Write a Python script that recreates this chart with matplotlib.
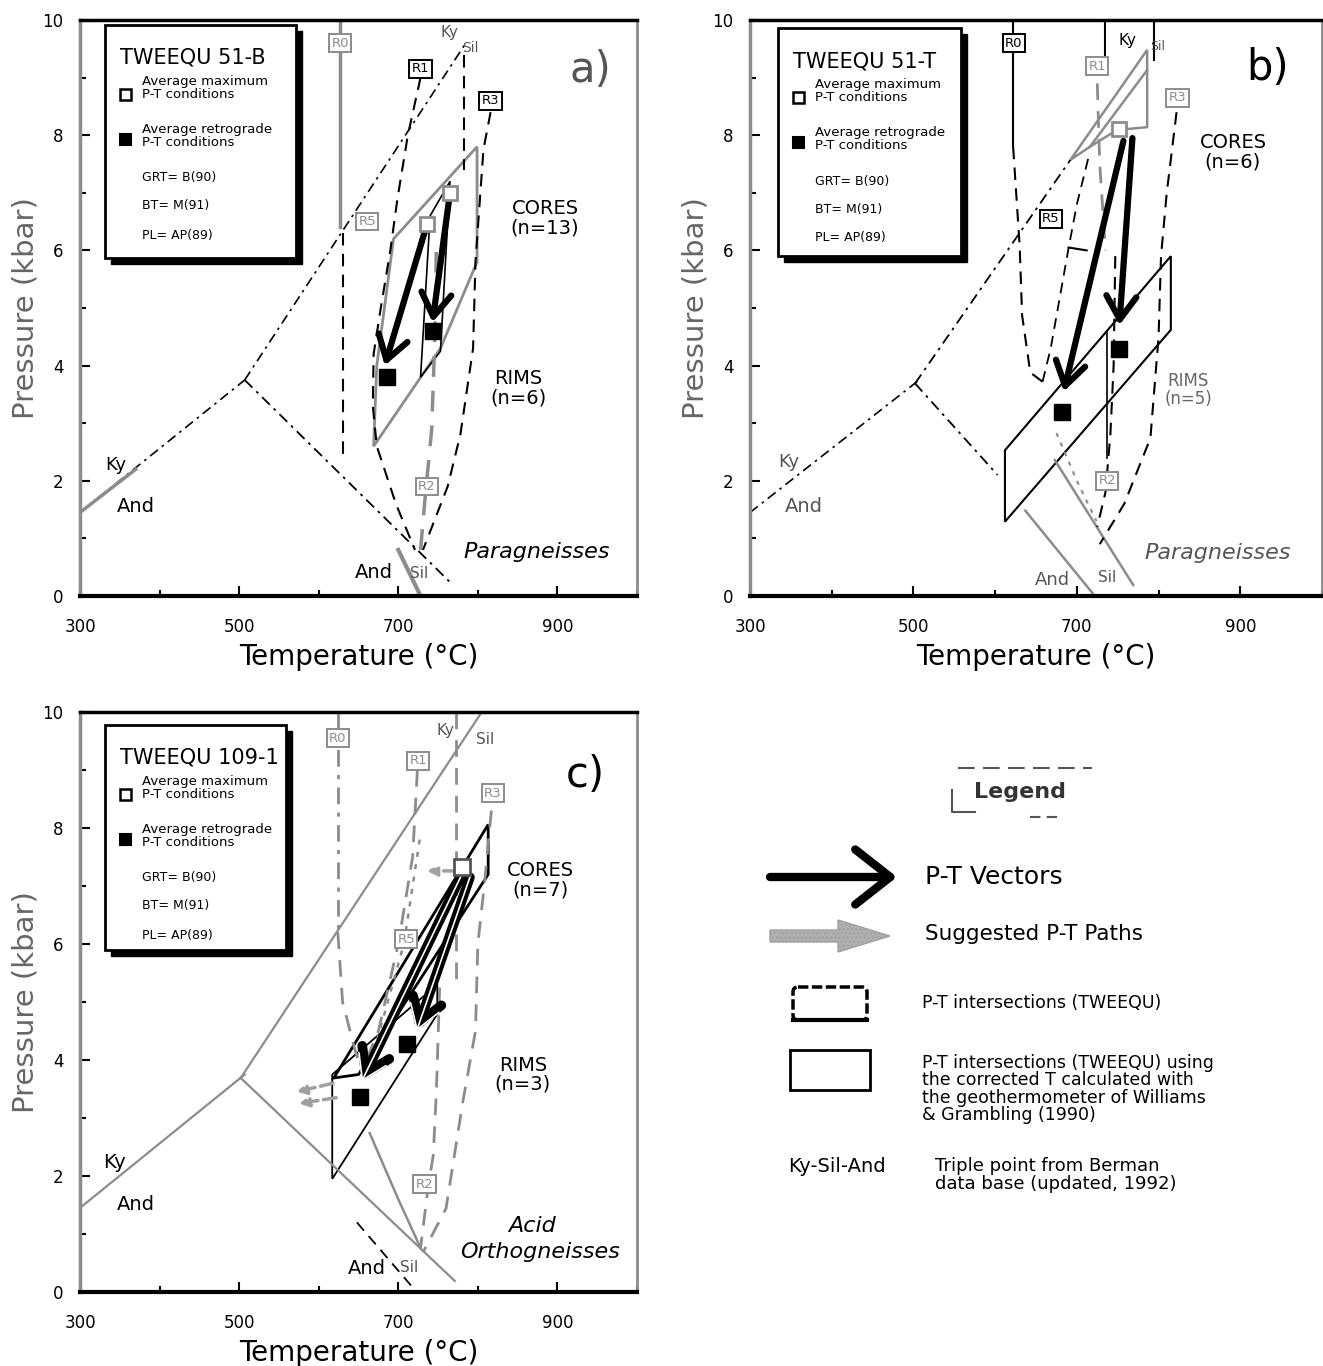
import matplotlib
matplotlib.use("Agg")
import matplotlib.pyplot as plt
from matplotlib.patches import Rectangle, Polygon, FancyArrow, FancyBboxPatch

plt.rcParams['font.family'] = ['DejaVu Sans']

GRAY = '#8c8c8c'
DASH = (0, (6, 4))
DASHDOT = (0, (6, 3, 1.5, 3))
DOT = (0, (2, 3))

# ---------------- data (T in degC, P in kbar) ----------------
# Berman (1992) triple point lines
kyand_T = [300, 507]
kyand_P = [1.45, 3.75]

# panel a : TWEEQU 51-B
a_kysil_T = [507, 784]
a_kysil_P = [3.75, 9.58]
a_andsil_T = [507, 768]
a_andsil_P = [3.75, 0.2]
a_andsil2_T = [700, 728]
a_andsil2_P = [0.8, 0.0]
a_r0_top_T = [627, 627]
a_r0_top_P = [10, 6.4]
a_r0_T = [631, 631]
a_r0_P = [6.3, 2.4]
a_r1_T = [728, 712, 699, 690, 678, 669, 668, 673, 697, 721]
a_r1_P = [9.0, 8.0, 6.9, 6.0, 5.0, 4.2, 3.3, 2.6, 1.6, 0.8]
a_r2_T = [728, 733, 742, 746, 748]
a_r2_P = [0.8, 1.6, 2.9, 4.5, 6.2]
a_r3_T = [816, 807, 797, 794, 778, 762, 731]
a_r3_P = [8.4, 7.75, 5.8, 4.3, 2.8, 1.9, 0.8]
a_r4_T = [782, 782]
a_r4_P = [9.4, 7.4]
a_core_T = [669, 673, 694, 799, 799, 753]
a_core_P = [2.6, 4.0, 6.2, 7.8, 5.8, 4.3]
a_rim_T = [728, 753, 765, 740]
a_rim_P = [3.8, 4.25, 7.2, 6.6]
a_vec_T0 = [736, 765]
a_vec_P0 = [6.45, 7.0]
a_vec_T1 = [683, 743]
a_vec_P1 = [4.0, 4.75]
a_ret_T = [686, 743]
a_ret_P = [3.8, 4.6]
a_lab = {'R0': (627, 9.6), 'R1': (728, 9.15), 'R3': (816, 8.6), 'R5': (661, 6.5), 'R2': (736, 1.9)}

# panel b : TWEEQU 51-T
b_kysil_T = [502, 692]
b_kysil_P = [3.69, 7.57]
b_andsil_T = [502, 603]
b_andsil_P = [3.69, 2.1]
b_andsil2_T = [637, 722]
b_andsil2_P = [1.48, 0.0]
b_andsil3_T = [673, 769]
b_andsil3_P = [2.36, 0.19]
b_r0_top_T = [622, 622]
b_r0_top_P = [10, 7.8]
b_r0_T = [622, 630, 633, 643, 658]
b_r0_P = [7.8, 6.08, 4.87, 3.88, 3.72]
b_r5_T = [658, 668, 690, 700, 714]
b_r5_P = [3.72, 4.3, 6.05, 6.8, 7.6]
b_r5h_T = [690, 712]
b_r5h_P = [6.05, 6.0]
b_r1_T = [725, 728, 735]
b_r1_P = [8.9, 7.5, 6.0]
b_r2_T = [747, 745, 741, 735, 725]
b_r2_P = [5.9, 4.0, 2.8, 1.8, 1.2]
b_r3_T = [822, 810, 803, 800, 790, 758, 728]
b_r3_P = [8.4, 7.0, 5.9, 4.5, 2.74, 1.6, 0.9]
b_u_T = [675, 700, 724]
b_u_P = [2.83, 2.0, 1.3]
b_rim_T = [612, 612, 815, 815]
b_rim_P = [1.29, 2.53, 5.9, 4.62]
b_rim_in_T = [737, 737]
b_rim_in_P = [2.4, 4.6]
b_core_T = [692, 786, 786, 749, 716]
b_core_P = [7.57, 9.48, 8.14, 8.09, 7.8]
b_core_in_T = [716, 786]
b_core_in_P = [7.8, 9.13]
b_vec_T0 = [757, 768]
b_vec_P0 = [7.9, 7.95]
b_vec_T1 = [684, 752]
b_vec_P1 = [3.55, 4.7]
b_ret_T = [682, 751]
b_ret_P = [3.2, 4.28]
b_max_T = [752]
b_max_P = [8.1]
b_lab = {'R0': (623, 9.6), 'R1': (725, 9.2), 'R3': (823, 8.65), 'R5': (668, 6.55), 'R2': (737, 2.0)}

# panel c : TWEEQU 109-1
c_kysil_T = [502, 803]
c_kysil_P = [3.69, 9.96]
c_andsil_T = [502, 771]
c_andsil_P = [3.69, 0.19]
c_andsil2_T = [648, 723]
c_andsil2_P = [1.2, 0.0]
c_r0_top_T = [624, 624]
c_r0_top_P = [10, 6.2]
c_r0_T = [624, 630, 645, 654]
c_r0_P = [6.2, 5.0, 4.2, 3.8]
c_r1_T = [724, 718, 700, 675, 654]
c_r1_P = [9.0, 7.5, 6.0, 4.5, 3.8]
c_r5_T = [654, 664, 707, 728]
c_r5_P = [3.8, 3.88, 6.0, 7.9]
c_r3_T = [817, 808, 800, 797, 781, 760, 731]
c_r3_P = [8.3, 7.0, 6.0, 4.5, 3.27, 1.44, 0.68]
c_r4_T = [773, 773]
c_r4_P = [10, 5.25]
c_r2_T = [752, 748, 744, 738, 728]
c_r2_P = [5.25, 3.5, 2.36, 1.86, 0.76]
c_u_T = [664, 700, 728]
c_u_P = [2.74, 1.6, 0.76]
c_rim_T = [617, 617, 749, 749]
c_rim_P = [1.95, 3.75, 5.3, 4.79]
c_core_T = [619, 813, 813, 650]
c_core_P = [3.69, 8.06, 7.2, 3.75]
c_vec_T0 = [782, 790]
c_vec_P0 = [7.26, 7.15]
c_vec_T1 = [654, 723]
c_vec_P1 = [3.63, 4.5]
c_ret_T = [652, 711]
c_ret_P = [3.37, 4.27]
c_max_T = [780]
c_max_P = [7.32]
c_path_T0 = [618, 622, 773]
c_path_P0 = [3.6, 3.35, 7.26]
c_path_T1 = [572, 575, 736]
c_path_P1 = [3.45, 3.25, 7.26]
c_lab = {'R0': (624, 9.55), 'R1': (725, 9.16), 'R3': (819, 8.6), 'R5': (710, 6.08), 'R2': (733, 1.86)}

fig = plt.figure(figsize=(13.23, 13.66), dpi=100)
W, H = 1323.0, 1366.0


def frame(rect):
    ax = fig.add_axes(rect)
    ax.set_xlim(300, 1000)
    ax.set_ylim(0, 10)
    ax.set_xticks([300, 500, 700, 900])
    ax.set_xticks([400, 600, 800, 1000], minor=True)
    ax.set_yticks([0, 2, 4, 6, 8, 10])
    ax.set_yticks([1, 3, 5, 7, 9], minor=True)
    ax.tick_params(which='both', direction='in', labelsize=12, width=1.5)
    ax.tick_params(which='major', length=7)
    ax.tick_params(which='minor', length=4)
    ax.tick_params(axis='x', pad=16)
    ax.tick_params(axis='y', pad=12)
    ax.spines['bottom'].set_linewidth(3)
    ax.spines['top'].set_linewidth(2.5)
    ax.spines['left'].set_color(GRAY)
    ax.spines['left'].set_linewidth(2.5)
    ax.spines['right'].set_color(GRAY)
    ax.spines['right'].set_linewidth(2)
    ax.set_xlabel('Temperature (\u00b0C)', fontsize=20, labelpad=5)
    ax.set_ylabel('Pressure (kbar)', fontsize=21, color='#666666', labelpad=2)
    return ax


def rlabels(ax, labs, grays=()):
    for k, (t, p) in labs.items():
        col = GRAY if k in grays else 'k'
        ax.text(t, p, k, fontsize=9.5, ha='center', va='center', color=col, zorder=6,
                bbox=dict(boxstyle='square,pad=0.18', fc='white', ec=col, lw=1.4))


def vectors(ax, t0, p0, t1, p1, hollow=False):
    for a, b, c, d in zip(t0, p0, t1, p1):
        ax.annotate('', xy=(c, d), xytext=(a, b), zorder=7,
                    arrowprops=dict(arrowstyle='->,head_length=0.7,head_width=0.45',
                                    lw=7 if hollow else 4.5, color='k', shrinkA=0, shrinkB=0,
                                    mutation_scale=24))
        if hollow:
            ax.annotate('', xy=(c, d), xytext=(a, b), zorder=7,
                        arrowprops=dict(arrowstyle='->,head_length=0.7,head_width=0.45',
                                        lw=1.2, color='white', shrinkA=0, shrinkB=0,
                                        mutation_scale=24))


# ---------------- panel a ----------------
ax = frame([80 / W, 1 - 596 / H, 557 / W, 576 / H])
ax.plot(kyand_T, kyand_P, color='k', lw=1.2, ls=DASHDOT)
ax.plot([300, 370], [1.45, 2.2], color=GRAY, lw=2.5)
ax.plot(a_kysil_T, a_kysil_P, color='k', lw=1.2, ls=DASHDOT)
ax.plot(a_andsil_T, a_andsil_P, color='k', lw=1.3, ls=DASHDOT)
ax.plot(a_andsil2_T, a_andsil2_P, color=GRAY, lw=3)
ax.plot(a_r0_top_T, a_r0_top_P, color=GRAY, lw=2.5)
ax.plot(a_r0_T, a_r0_P, color='k', lw=1.5, ls=DASH)
ax.plot(a_r1_T, a_r1_P, color='k', lw=1.5, ls=DASH)
ax.plot(a_r2_T, a_r2_P, color=GRAY, lw=2.5, ls=DASH)
ax.plot(a_r3_T, a_r3_P, color='k', lw=1.5, ls=DASH)
ax.plot(a_r4_T, a_r4_P, color='k', lw=1.5, ls=DASH)
ax.add_patch(Polygon(list(zip(a_core_T, a_core_P)), closed=True, fill=False, ec=GRAY, lw=2))
ax.add_patch(Polygon(list(zip(a_rim_T, a_rim_P)), closed=True, fill=False, ec='k', lw=1.2))
vectors(ax, a_vec_T0, a_vec_P0, a_vec_T1, a_vec_P1)
ax.plot(a_vec_T0, a_vec_P0, 's', ms=10, mfc='white', mec=GRAY, mew=2, zorder=8)
ax.plot(a_ret_T, a_ret_P, 's', ms=11, mfc='k', mec='k', zorder=8)
rlabels(ax, a_lab, grays=('R0', 'R5', 'R2'))

# ---------------- panel b ----------------
ax = frame([750 / W, 1 - 596 / H, 572 / W, 576 / H])
ax.plot(kyand_T, kyand_P, color='k', lw=1.2, ls=DASHDOT)
ax.plot(b_kysil_T, b_kysil_P, color='k', lw=1.3, ls=DASHDOT)
ax.plot(b_andsil_T, b_andsil_P, color='k', lw=1.3, ls=DASHDOT)
ax.plot(b_andsil2_T, b_andsil2_P, color=GRAY, lw=1.8)
ax.plot(b_andsil3_T, b_andsil3_P, color=GRAY, lw=1.8)
ax.plot(b_r0_top_T, b_r0_top_P, color='k', lw=1.5)
ax.plot(b_r0_T, b_r0_P, color='k', lw=1.5, ls=DASH)
ax.plot(b_r5_T, b_r5_P, color='k', lw=1.3, ls=DASH)
ax.plot(b_r5h_T, b_r5h_P, color='k', lw=1.5)
ax.plot(b_r1_T, b_r1_P, color=GRAY, lw=2, ls=DASH)
ax.plot(b_r2_T, b_r2_P, color='k', lw=1.5, ls=DASH)
ax.plot(b_r3_T, b_r3_P, color='k', lw=1.5, ls=DASH)
ax.plot(b_u_T, b_u_P, color=GRAY, lw=1.5, ls=DOT)
ax.plot([735, 735], [10, 9.4], color='k', lw=1.5)
ax.plot([795, 795], [10, 9.3], color='k', lw=1.5)
ax.add_patch(Polygon(list(zip(b_rim_T, b_rim_P)), closed=True, fill=False, ec='k', lw=1.5))
ax.plot(b_rim_in_T, b_rim_in_P, color='k', lw=1.2)
ax.add_patch(Polygon(list(zip(b_core_T, b_core_P)), closed=True, fill=False, ec=GRAY, lw=1.8))
ax.plot(b_core_in_T, b_core_in_P, color=GRAY, lw=1.8)
vectors(ax, b_vec_T0, b_vec_P0, b_vec_T1, b_vec_P1)
ax.plot(b_max_T, b_max_P, 's', ms=10, mfc='white', mec=GRAY, mew=2, zorder=8)
ax.plot(b_ret_T, b_ret_P, 's', ms=11, mfc='k', mec='k', zorder=8)
rlabels(ax, b_lab, grays=('R1', 'R3', 'R2'))

# ---------------- panel c ----------------
ax = frame([80 / W, 1 - 1292 / H, 557 / W, 580 / H])
ax.plot(kyand_T, kyand_P, color=GRAY, lw=1.6)
ax.plot(c_kysil_T, c_kysil_P, color=GRAY, lw=1.6)
ax.plot(c_andsil_T, c_andsil_P, color=GRAY, lw=1.6)
ax.plot(c_andsil2_T, c_andsil2_P, color='k', lw=1.3, ls=DASH)
ax.plot(c_r0_top_T, c_r0_top_P, color=GRAY, lw=2, ls=DASHDOT)
ax.plot(c_r0_T, c_r0_P, color=GRAY, lw=2, ls=DASH)
ax.plot(c_r1_T, c_r1_P, color=GRAY, lw=2, ls=DASH)
ax.plot(c_r5_T, c_r5_P, color=GRAY, lw=1.8, ls=DOT)
ax.plot(c_r3_T, c_r3_P, color=GRAY, lw=2, ls=DASH)
ax.plot(c_r4_T, c_r4_P, color=GRAY, lw=2, ls=DASH)
ax.plot(c_r2_T, c_r2_P, color=GRAY, lw=2, ls=DASH)
ax.plot(c_u_T, c_u_P, color=GRAY, lw=1.8)
ax.add_patch(Polygon(list(zip(c_rim_T, c_rim_P)), closed=True, fill=False, ec='k', lw=1.3))
ax.add_patch(Polygon(list(zip(c_core_T, c_core_P)), closed=True, fill=False, ec='k', lw=2))
for a, b, c, d in zip(c_path_T0, c_path_P0, c_path_T1, c_path_P1):
    ax.annotate('', xy=(c, d), xytext=(a, b),
                arrowprops=dict(arrowstyle='-|>', lw=2.5, color='#a0a0a0', ls='--',
                                shrinkA=0, shrinkB=0, mutation_scale=14))
vectors(ax, c_vec_T0, c_vec_P0, c_vec_T1, c_vec_P1, hollow=True)
ax.plot(c_max_T, c_max_P, 's', ms=11, mfc='white', mec='#555555', mew=2, zorder=8)
ax.plot(c_ret_T, c_ret_P, 's', ms=11, mfc='k', mec='k', zorder=8)
rlabels(ax, c_lab, grays=('R0', 'R1', 'R3', 'R5', 'R2'))

# ---------------- overlay in pixel coordinates ----------------
ov = fig.add_axes([0, 0, 1, 1])
ov.set_xlim(0, W)
ov.set_ylim(H, 0)
ov.axis('off')
ov.patch.set_alpha(0)


def txt(x, y, s, **kw):
    kw.setdefault('fontsize', 14)
    kw.setdefault('ha', 'left')
    kw.setdefault('va', 'center')
    ov.text(x, y, s, **kw)


def inset(x0, y0, x1, y1, title):
    ov.add_patch(Rectangle((x0 + 6, y0 + 6), x1 - x0, y1 - y0, fc='k', ec='k', zorder=3))
    ov.add_patch(Rectangle((x0, y0), x1 - x0, y1 - y0, fc='white', ec='k', lw=2, zorder=4))
    dx = x0 + 15
    ov.text(dx, y0 + 33, title, fontsize=15, va='center', zorder=5)
    ov.add_patch(Rectangle((dx, y0 + 64), 11, 11, fc='white', ec='k', lw=1.8, zorder=5))
    ov.text(dx + 22, y0 + 63, 'Average maximum\nP-T conditions', fontsize=9.5,
            va='center', linespacing=0.95, zorder=5)
    ov.add_patch(Rectangle((dx, y0 + 109), 11, 11, fc='k', ec='k', lw=1.5, zorder=5))
    ov.text(dx + 22, y0 + 111, 'Average retrograde\nP-T conditions', fontsize=9.5,
            va='center', linespacing=0.95, zorder=5)
    ov.text(dx + 22, y0 + 153, 'GRT= B(90)', fontsize=9, va='center', zorder=5)
    ov.text(dx + 22, y0 + 181, 'BT= M(91)', fontsize=9, va='center', zorder=5)
    ov.text(dx + 22, y0 + 210, 'PL= AP(89)', fontsize=9, va='center', zorder=5)


inset(105, 25, 296, 258, 'TWEEQU 51-B')
inset(778, 28, 961, 256, 'TWEEQU 51-T')
inset(105, 725, 286, 950, 'TWEEQU 109-1')

# panel a annotations
txt(590, 70, 'a)', fontsize=30, ha='center', color='#555555')
txt(545, 218, 'CORES\n(n=13)', ha='center', linespacing=1.0)
txt(518, 388, 'RIMS\n(n=6)', ha='center', linespacing=1.0)
txt(537, 552, 'Paragneisses', fontsize=16, ha='center', style='italic')
txt(105, 465, 'Ky', fontsize=13)
txt(117, 507, 'And', fontsize=14)
txt(355, 573, 'And', fontsize=14)
txt(410, 573, 'Sil', fontsize=11, color='#555555')
txt(440, 32, 'Ky', fontsize=11, color='#555555')
txt(462, 48, 'Sil', fontsize=10, color='#555555')

# panel b annotations
txt(1268, 68, 'b)', fontsize=30, ha='center')
txt(1233, 152, 'CORES\n(n=6)', ha='center', linespacing=1.0)
txt(1188, 390, 'RIMS\n(n=5)', fontsize=12, ha='center', linespacing=1.0, color='#666666')
txt(1218, 553, 'Paragneisses', fontsize=16, ha='center', style='italic', color='#555555')
txt(778, 462, 'Ky', fontsize=13, color='#555555')
txt(785, 506, 'And', fontsize=14, color='#555555')
txt(1035, 580, 'And', fontsize=13, color='#555555')
txt(1098, 577, 'Sil', fontsize=11, color='#555555')
txt(1118, 40, 'Ky', fontsize=11)
txt(1150, 46, 'Sil', fontsize=9, color='#555555')

# panel c annotations
txt(585, 775, 'c)', fontsize=30, ha='center')
txt(540, 880, 'CORES\n(n=7)', ha='center', linespacing=1.0)
txt(523, 1075, 'RIMS\n(n=3)', ha='center', linespacing=1.0)
txt(532, 1226, 'Acid', fontsize=16, ha='center', style='italic')
txt(540, 1252, 'Orthogneisses', fontsize=16, ha='center', style='italic')
txt(103, 1162, 'Ky', fontsize=14)
txt(117, 1205, 'And', fontsize=14)
txt(348, 1268, 'And', fontsize=14)
txt(400, 1268, 'Sil', fontsize=11, color='#555555')
txt(437, 730, 'Ky', fontsize=11, color='#555555')
txt(476, 740, 'Sil', fontsize=11, color='#555555')

# ---------------- legend panel ----------------
txt(1020, 792, 'Legend', fontsize=16, ha='center', weight='bold', color='#333333')
ov.plot([958, 1092], [768, 768], color='#555555', lw=1.5, ls=(0, (8, 4)))
ov.plot([952, 952, 975], [790, 812, 812], color='#555555', lw=1.5)
ov.plot([1030, 1060], [817, 817], color='#555555', lw=1.5, ls=(0, (5, 3)))

ov.annotate('', xy=(897, 877), xytext=(770, 877),
            arrowprops=dict(arrowstyle='->,head_length=0.7,head_width=0.55', lw=6, color='k',
                            shrinkA=0, shrinkB=0, mutation_scale=36))
txt(925, 877, 'P-T Vectors', fontsize=18)

ov.add_patch(FancyArrow(770, 936, 120, 0, width=12, head_width=32, head_length=52,
                        length_includes_head=True, fc='#b0b0b0', ec='#a0a0a0', hatch='....', lw=1))
txt(925, 934, 'Suggested P-T Paths', fontsize=15.5)

ov.add_patch(FancyBboxPatch((793, 987), 74, 33, boxstyle='round,pad=0,rounding_size=5',
                            fc='white', ec='k', lw=2.5, ls=(0, (3, 1))))
ov.plot([793, 867], [1020, 1020], color='k', lw=3)
txt(922, 1003, 'P-T intersections (TWEEQU)', fontsize=12.5)

ov.add_patch(Rectangle((790, 1050), 80, 40, fc='white', ec='k', lw=2))
txt(922, 1089, 'P-T intersections (TWEEQU) using\nthe corrected T calculated with\n'
    'the geothermometer of Williams\n& Grambling (1990)', fontsize=12.5, va='center',
    linespacing=0.95)

txt(788, 1166, 'Ky-Sil-And', fontsize=14)
txt(935, 1175, 'Triple point from Berman\ndata base (updated, 1992)', fontsize=13,
    linespacing=0.95)

fig.savefig('out.png', dpi=100)
